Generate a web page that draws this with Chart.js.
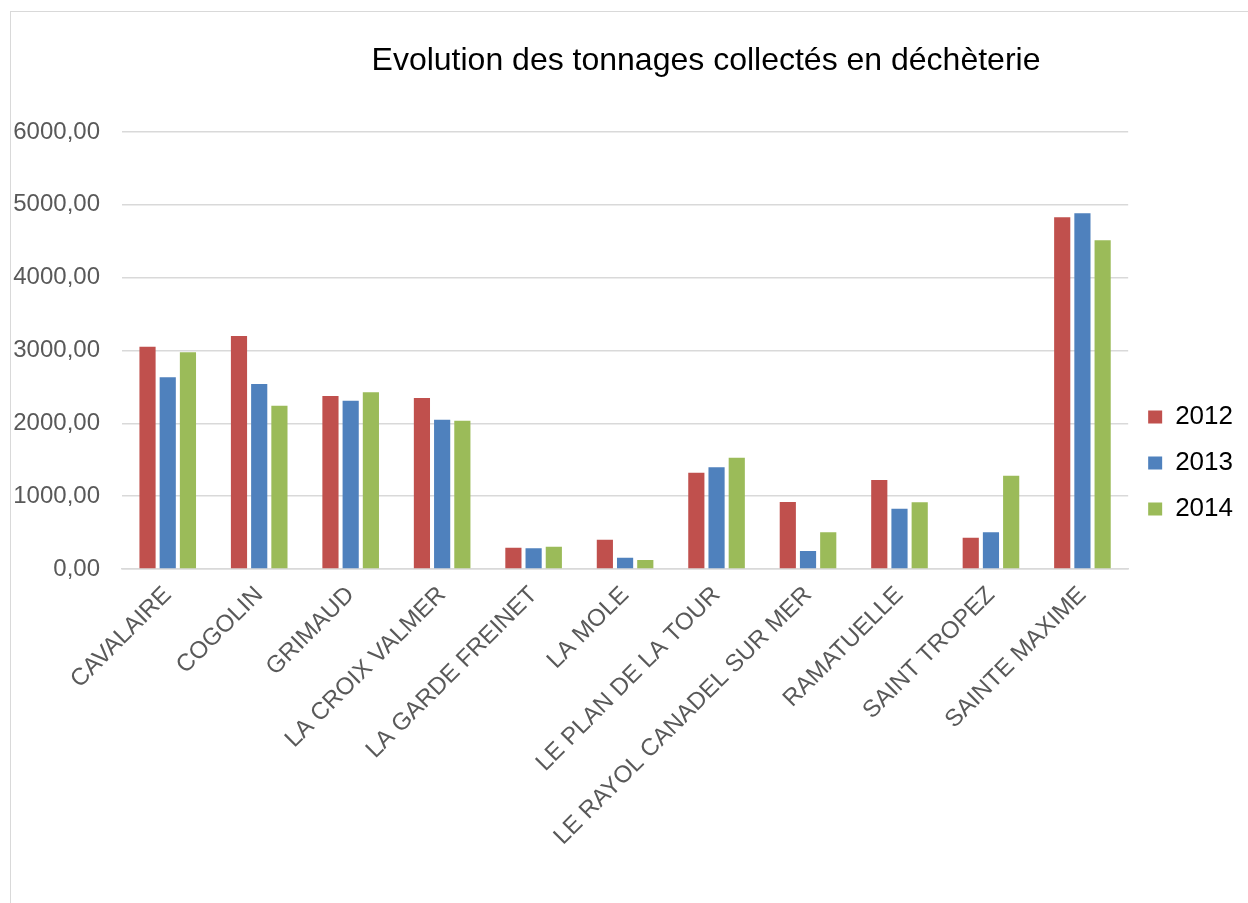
<!DOCTYPE html>
<html>
<head>
<meta charset="utf-8">
<script src="https://cdn.jsdelivr.net/npm/chart.js@4/dist/chart.umd.min.js"></script>
<style>
  html, body { margin: 0; padding: 0; background: #fff; overflow: hidden; }
  #frame { position: absolute; left: 10px; top: 11px; width: 1400px; height: 1000px; border: 1px solid #d9d9d9; }
  #wrap { position: absolute; left: 0; top: 0; width: 1248px; height: 903px; }
</style>
</head>
<body>
<div id="frame"></div>
<div id="wrap"><canvas id="tonnage-chart"></canvas></div>
<script>
// ---------------------------------- data ----------------------------------
var communes = ["CAVALAIRE", "COGOLIN", "GRIMAUD", "LA CROIX VALMER", "LA GARDE FREINET", "LA MOLE",
	"LE PLAN DE LA TOUR", "LE RAYOL CANADEL SUR MER", "RAMATUELLE", "SAINT TROPEZ", "SAINTE MAXIME"];
var years = ["2012", "2013", "2014"];
var t2012 = [3053, 3199, 2375, 2348, 293, 403, 1323, 920, 1222, 430, 4828];
var t2013 = [2632, 2540, 2311, 2050, 284, 156, 1396, 247, 828, 503, 4883];
var t2014 = [2975, 2243, 2426, 2037, 307, 124, 1529, 503, 915, 1281, 4513];
var yTickLabels = ["0,00", "1000,00", "2000,00", "3000,00", "4000,00", "5000,00", "6000,00"];

var chartTitle = "Evolution des tonnages collectés en déchèterie";
var FONT = "'Liberation Sans', Arial, sans-serif";

// title is placed off-centre like the original, so draw it by hand
var titlePlugin = {
	id: 'offTitle',
	afterDraw: function(chart) {
		var ctx = chart.ctx;
		ctx.save();
		ctx.font = "32px " + FONT;
		ctx.fillStyle = "#000";
		ctx.textAlign = "center";
		ctx.textBaseline = "alphabetic";
		ctx.fillText(chartTitle, 706, 70);
		ctx.restore();
	}
};

// excel centres the legend on plot + label band, not the whole canvas
var legendBand = {
	id: 'legendBand',
	afterLayout: function(chart) {
		var l = chart.legend;
		l.top = chart.chartArea.top;
		l.bottom = 794;
		l.height = l.bottom - l.top;
	}
};

var ctx = document.getElementById("tonnage-chart").getContext('2d');
var myChart = new Chart(ctx, {
	type: 'bar',
	data: {
		labels: communes,
		datasets: [
			{ label: years[0], data: t2012, backgroundColor: '#C0504D' },
			{ label: years[1], data: t2013, backgroundColor: '#4F81BD' },
			{ label: years[2], data: t2014, backgroundColor: '#9BBB59' }
		]
	},
	options: {
		responsive: true,
		maintainAspectRatio: false,
		animation: false,
		datasets: {
			bar: { categoryPercentage: 0.663, barPercentage: 0.8 }
		},
		layout: {
			padding: { top: 132, left: 0, right: 5, bottom: 0 }
		},
		plugins: {
			title: { display: false },
			tooltip: { enabled: false },
			legend: {
				position: 'right',
				labels: {
					color: '#000',
					font: { family: FONT, size: 26 },
					boxWidth: 14,
					boxHeight: 13,
					padding: 20
				}
			}
		},
		scales: {
			x: {
				grid: { display: false },
				border: { display: true, color: '#D9D9D9', width: 1.5 },
				ticks: {
					autoSkip: false,
					minRotation: 45,
					maxRotation: 45,
					padding: 4,
					color: '#595959',
					font: { family: FONT, size: 24 }
				},
				afterFit: function(s) { s.height = 334; }
			},
			y: {
				min: 0,
				max: 6000,
				grid: { color: '#D9D9D9', lineWidth: 1.5, drawTicks: false },
				border: { display: false },
				ticks: {
					stepSize: 1000,
					padding: 22,
					color: '#595959',
					font: { family: FONT, size: 24 },
					callback: function(v, i) { return yTickLabels[i]; }
				},
				afterFit: function(s) { s.width = 122; }
			}
		}
	},
	plugins: [titlePlugin, legendBand]
});
</script>
</body>
</html>
